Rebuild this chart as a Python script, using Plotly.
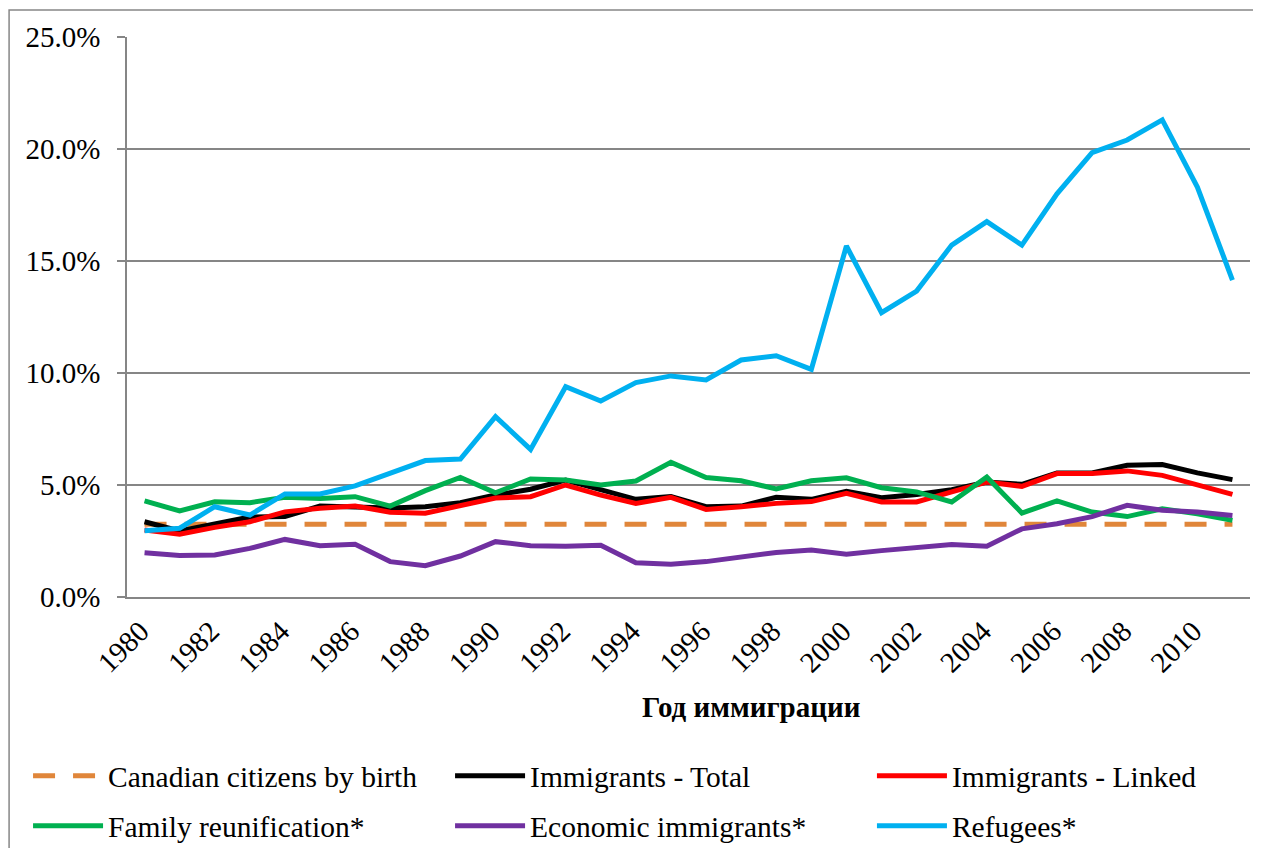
import plotly.graph_objects as go

years = list(range(1980, 2012))
tick_years = list(range(1980, 2011, 2))
tick_labels = [str(y) for y in tick_years]
y_ticks = [0, 5, 10, 15, 20, 25]
y_tick_labels = ["0.0%", "5.0%", "10.0%", "15.0%", "20.0%", "25.0%"]

canadian_by_birth = [3.25] * 32
immigrants_total = [3.36, 2.95, 3.26, 3.57, 3.59, 4.06, 4.02, 3.97, 4.03, 4.21, 4.55,
                    4.81, 5.22, 4.78, 4.36, 4.48, 4.03, 4.06, 4.45, 4.36, 4.72,
                    4.43, 4.58, 4.79, 5.13, 5.03, 5.54, 5.54, 5.88, 5.91, 5.54, 5.24]
immigrants_linked = [2.99, 2.80, 3.11, 3.36, 3.80, 3.96, 4.06, 3.78, 3.74, 4.06, 4.42,
                     4.48, 5.00, 4.55, 4.18, 4.45, 3.91, 4.03, 4.18, 4.26, 4.63,
                     4.24, 4.24, 4.69, 5.13, 4.94, 5.51, 5.51, 5.63, 5.43, 5.03, 4.58]
family_reunification = [4.29, 3.84, 4.25, 4.21, 4.45, 4.40, 4.48, 4.06, 4.75, 5.34, 4.65,
                        5.27, 5.22, 5.00, 5.18, 6.01, 5.33, 5.19, 4.82, 5.19, 5.32,
                        4.88, 4.69, 4.24, 5.36, 3.75, 4.29, 3.79, 3.59, 3.94, 3.71, 3.42]
economic_immigrants = [1.98, 1.85, 1.88, 2.17, 2.57, 2.29, 2.35, 1.58, 1.40, 1.83, 2.47,
                       2.29, 2.27, 2.31, 1.53, 1.46, 1.58, 1.80, 1.99, 2.10, 1.91,
                       2.07, 2.22, 2.34, 2.27, 3.04, 3.27, 3.59, 4.09, 3.87, 3.79, 3.64]
refugees = [2.96, 3.07, 4.03, 3.66, 4.60, 4.60, 4.96, 5.55, 6.09, 6.16, 8.05,
            6.59, 9.39, 8.75, 9.57, 9.87, 9.69, 10.58, 10.77, 10.16, 15.67,
            12.69, 13.66, 15.71, 16.76, 15.71, 18.00, 19.84, 20.40, 21.30, 18.30, 14.15]

FONT = "Liberation Serif"
GRID = "#868686"

fig = go.Figure()

slots = [("legend", 0.016, 0.0857), ("legend2", 0.3528, 0.0857), ("legend3", 0.6895, 0.0857),
         ("legend4", 0.016, 0.0262), ("legend5", 0.3528, 0.0262), ("legend6", 0.6895, 0.0262)]

series = [
    ("Canadian citizens by birth", canadian_by_birth, "#E0863A", "22px,18px"),
    ("Immigrants - Total", immigrants_total, "#000000", None),
    ("Immigrants - Linked", immigrants_linked, "#FF0000", None),
    ("Family reunification*", family_reunification, "#00B050", None),
    ("Economic immigrants*", economic_immigrants, "#7030A0", None),
    ("Refugees*", refugees, "#00B0F0", None),
]

legends = {}
for (name, values, color, dash), (lid, lx, ly) in zip(series, slots):
    line = dict(color=color, width=5)
    if dash:
        line["dash"] = dash
    fig.add_trace(go.Scatter(x=years, y=values, mode="lines", name=name,
                             line=line, legend=lid))
    legends[lid] = dict(x=lx, y=ly, xref="container", yref="container",
                        xanchor="left", yanchor="middle", orientation="h",
                        itemwidth=70,
                        font=dict(family=FONT, size=29.5, color="#000000"),
                        bgcolor="rgba(0,0,0,0)", borderwidth=0)

fig.update_layout(
    width=1253, height=840,
    margin=dict(l=119, r=11, t=29, b=251, autoexpand=False),
    paper_bgcolor="white", plot_bgcolor="white",
    font=dict(family=FONT, size=29, color="#000000"),
    showlegend=True,
    xaxis=dict(range=[1979.5, 2011.5], tickvals=tick_years, ticktext=tick_labels,
               tickangle=-45, showgrid=False, showline=True, linecolor=GRID,
               linewidth=1.5, ticks="", zeroline=False, automargin=False,
               ticklabelstandoff=4, ticklabelshift=-4,
               tickfont=dict(family=FONT, size=29, color="#000000")),
    yaxis=dict(range=[0, 25], tickvals=y_ticks, ticktext=y_tick_labels,
               showgrid=True, gridcolor=GRID, gridwidth=1.5, showline=True,
               linecolor=GRID, linewidth=1.5, ticks="outside", ticklen=8,
               tickcolor=GRID, tickwidth=1.5, zeroline=False, automargin=False,
               ticklabelstandoff=11,
               tickfont=dict(family=FONT, size=29, color="#000000")),
    annotations=[dict(text="<b>Год иммиграции</b>", xref="paper", yref="paper",
                      x=0.5557, y=-0.196, showarrow=False, xanchor="center",
                      yanchor="middle", font=dict(family=FONT, size=29, color="#000000"))],
    shapes=[dict(type="rect", xref="paper", yref="paper",
                 x0=-0.105, x1=1.05, y0=-0.6, y1=1.048,
                 line=dict(color=GRID, width=1.5), fillcolor="rgba(0,0,0,0)", layer="below")],
    **legends,
)

fig.write_html("out.html")
